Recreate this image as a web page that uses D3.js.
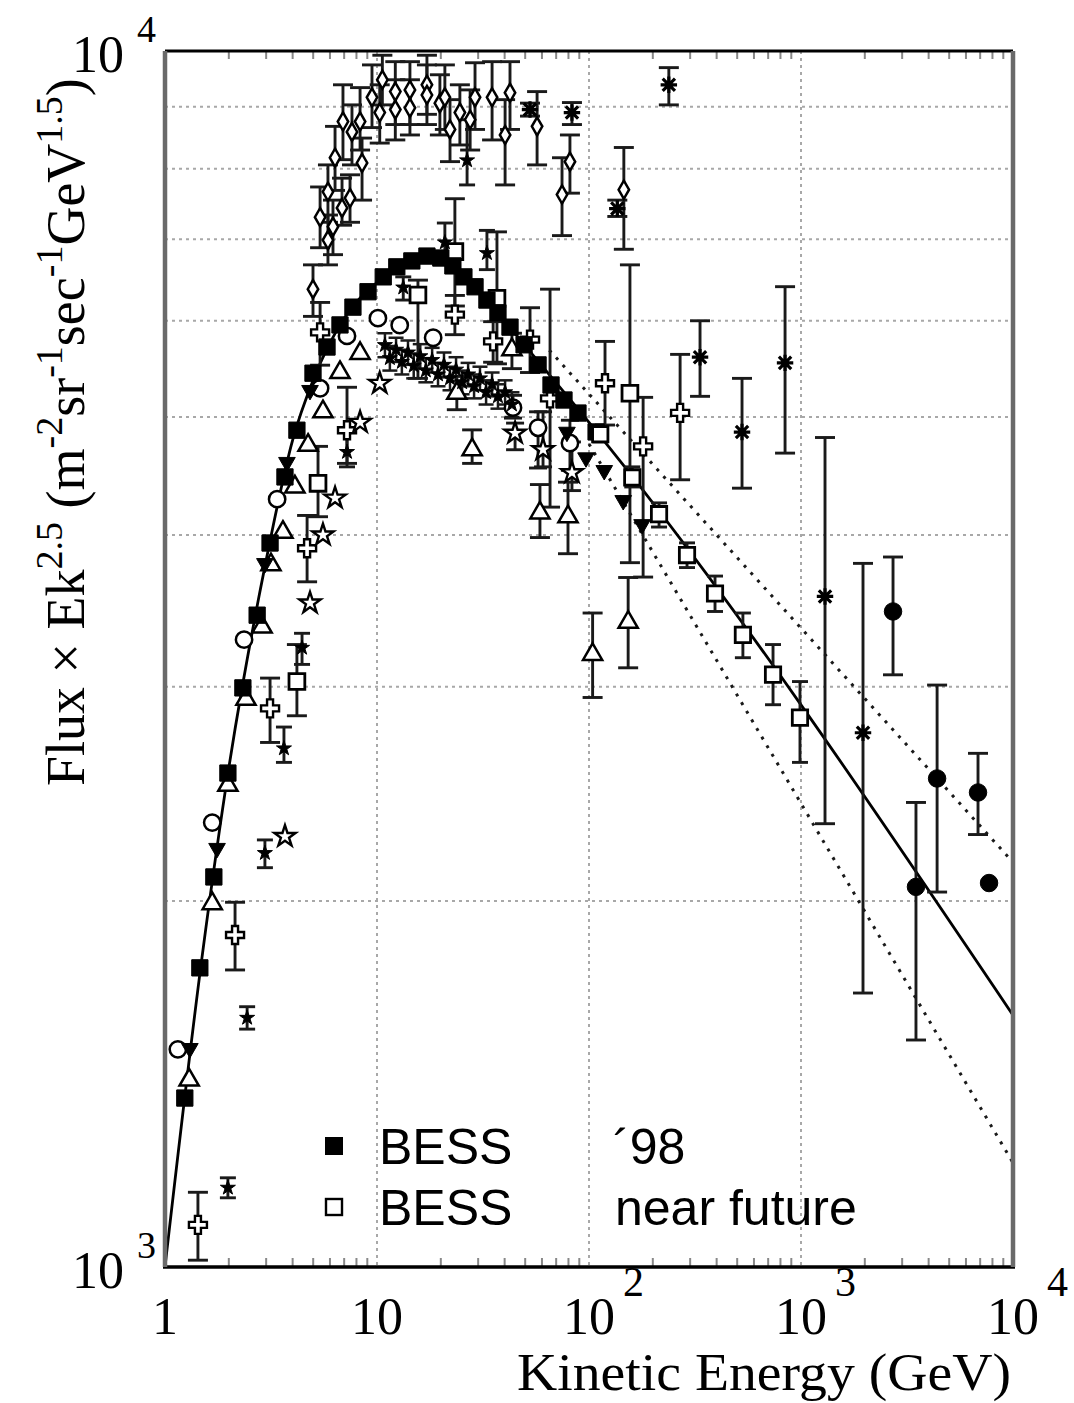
<!DOCTYPE html>
<html><head><meta charset="utf-8">
<script src="https://cdn.jsdelivr.net/npm/d3@7"></script>
<style>body{margin:0;background:#fff}svg{display:block}</style>
</head><body>
<svg id="c" width="1074" height="1403"></svg>
<script>
// ---------------- data ----------------
const bess98E=[1.24,1.46,1.70,1.98,2.33,2.72,3.13,3.68,4.19,4.99,5.81,6.69,7.70,9.07,10.7,12.4,14.6,17.2,20.0,22.8,25.7,29.0,33.0,37.2,42.4,49.4,57.5,66.2,76.2,88.7,108];
const bess98F=[1377,1762,2093,2548,2994,3436,3939,4464,4877,5433,5709,5953,6157,6339,6520,6645,6720,6782,6757,6657,6520,6399,6240,6091,5928,5733,5519,5313,5164,5038,4861];

const futureE=[113,160,214,290,393,532,738,989];
const futureF=[4840,4460,4160,3850,3580,3310,3070,2830];
const futureHi=[4900,4550,4250,3940,3700,3450,3250,3030];
const futureLo=[4770,4380,4060,3760,3460,3170,2900,2600];

const sqE=[4.19,5.27,15.6,23.3,36.8,156];
const sqF=[3030,4410,6300,6840,6260,5230];
const sqHi=[3250,4730,6480,7560,7100,6670];
const sqLo=[2840,4140,5380,6170,5530,3795];

const circE=[1.15,1.67,2.36,3.38,5.39,7.22,10.1,12.8,18.4,43.8,57.5,81.3];
const circF=[1510,2320,3280,4280,5280,5830,6030,5950,5810,5090,4900,4760];
const circHi=[null,null,null,null,null,null,null,null,null,5210,5050,4970];
const circLo=[null,null,null,null,null,null,null,null,null,4990,4540,4520];

const triE=[1.30,1.67,1.98,2.41,2.87,3.16,3.60,4.10,4.73,5.56,6.69,8.32,23.8,28.1,43.3,58.7,79.6,104,153];
const triF=[1425,1990,2490,2930,3360,3780,4020,4380,4740,5050,5440,5640,5230,4700,5680,4170,4140,3190,3390];
const triHi=[null,null,null,null,null,null,null,null,null,null,null,null,5400,4880,5860,4400,4420,3450,3690];
const triLo=[null,null,null,null,null,null,null,null,null,null,null,null,5070,4580,5480,3980,3860,2940,3110];

const dtriE=[1.31,1.76,2.96,3.76,4.83,78.7,96.8,118,145,178];
const dtriF=[1513,2210,3790,4590,5260,4860,4630,4520,4270,4080];

const plusE=[1.43,2.14,3.13,4.68,7.22,5.39,23.3,35.3,52.7,65.5,119,180,269];
const plusF=[1083,1875,2880,3900,4877,5870,6070,5770,5790,5180,5330,4730,5040];
const plusHi=[1152,1995,3050,4150,5290,6212,6295,5990,6150,6370,5770,5190,5630];
const plusLo=[1013,1755,2700,3660,4580,5516,5844,5547,5440,4216,4925,3693,4440];

const diaE=[5.39,5.87,6.20,5.87,6.34,6.91,7.62,8.32,8.50,6.84,7.46,9.47,10.3,10.6,12.2,12.2,14.3,14.3,17.2,17.2,19.8,20.9,22.1,24.6,27.5,29.0,34.9,40.2,42.4,56.9,81.3,74.6,146,4.99];
const diaF=[7300,7660,7170,6990,8170,8750,8580,8750,8090,7430,7570,9160,8900,9470,9260,8950,9290,8980,9380,9200,9060,9160,8620,8900,8780,9160,9160,8530,9240,8670,8110,7620,7690,6370];
const diaHi=[7730,8060,7540,7330,8670,9380,9030,9330,8480,7860,7910,9740,9380,9920,9800,9470,9800,9470,9920,9740,9560,9740,9120,9380,9290,9780,9800,9120,9800,9260,8530,8170,8330,6670];
const diaLo=[6890,7230,6800,6670,7680,8140,8060,8290,7540,7190,7230,8650,8400,9030,8700,8450,8700,8530,8870,8700,8530,8620,8110,8370,8290,8620,8450,7760,8620,8060,7640,7050,6870,6050];

const starE=[3.68,4.83,5.56,6.34,8.32,10.3,44.8,60.7,83.1];
const starF=[2260,3516,4000,4289,4950,5330,4850,4700,4500];
const starHi=[null,null,null,null,null,null,4943,5050,4770];
const starLo=[null,null,null,null,null,null,4700,4550,4350];

const fstarE=[1.98,2.44,2.96,3.64,4.43,7.22,20.9,33.0,26.6,13.3];
const fstarF=[1162,1603,2190,2670,3230,4680,6960,6820,8130,6390];
const fstarHi=[1184,1637,2245,2780,3320,4880,7220,7120,8780,6520];
const fstarLo=[1140,1569,2130,2600,3130,4550,6690,6610,7760,6240];

const bandE=[10.9,11.5,12.3,13.1,14.0,14.9,16.0,17.0,18.2,19.4,20.7,22.1,23.6,25.2,26.9,28.7,30.6,32.7,34.9,37.2,40.2,43.3];
const bandF=[5730,5590,5680,5550,5650,5510,5610,5460,5570,5420,5520,5380,5470,5340,5420,5300,5380,5240,5320,5200,5240,5120];
const bandHi=[5860,5720,5810,5680,5780,5640,5740,5590,5700,5540,5650,5500,5600,5460,5540,5420,5500,5360,5440,5320,5360,5240];
const bandLo=[5600,5460,5550,5420,5520,5380,5480,5340,5440,5300,5390,5260,5350,5220,5300,5180,5260,5120,5200,5080,5120,5000];

const astE=[52.7,83.1,136,238,334,527,841,1298,1961];
const astF=[8950,8900,7420,9380,5600,4860,5540,3560,2750];
const astHi=[9060,9070,7540,9690,6000,5380,6400,4810,3790];
const astLo=[8840,8700,7310,9030,5200,4370,4670,2315,1680];

const fcircE=[2717,3486,4385,6839,7709];
const fcircF=[3460,2054,2522,2456,2069];
const fcircHi=[3836,2410,3010,2645,null];
const fcircLo=[3069,1537,2034,2268,null];

const fitE=[1,1.5,2,3,4,5,7,10,15,20,30,50,100,10000];
const fitF=[1000,1806,2573,3812,4787,5363,6030,6450,6720,6760,6358,5720,4950,1611];
const upperE=[65,10000]; const upperF=[5675,2152];
const lowerE=[100,10000]; const lowerF=[4752,1218];

const xTickVals=[1,10,100,1000,10000];
const xTickBase=["1","10","10","10","10"];
const xTickExp=["","","2","3","4"];
const yTickVals=[1000,10000];
const yTickBase=["10","10"];
const yTickExp=["3","4"];
const gridXVals=[10,100,1000];
const gridYVals=[2000,3000,4000,5000,6000,7000,8000,9000];

// ---------------- chart ----------------
const svg=d3.select("#c");
const X0=165,X1=1013,Y0=1267,Y1=51;
const x=d3.scaleLog().domain([1,1e4]).range([X0,X1]);
const y=d3.scaleLog().domain([1e3,1e4]).range([Y0,Y1]);

svg.append("defs").append("clipPath").attr("id","clip")
  .append("rect").attr("x",X0).attr("y",Y1).attr("width",X1-X0).attr("height",Y0-Y1);

// grid
const grid=svg.append("g").attr("stroke","#a8a8a8").attr("stroke-width",2).attr("stroke-dasharray","3,4");
grid.selectAll(".gx").data(gridXVals).join("line")
  .attr("x1",d=>x(d)).attr("x2",d=>x(d)).attr("y1",Y1).attr("y2",Y0);
grid.selectAll(".gy").data(gridYVals).join("line")
  .attr("x1",X0).attr("x2",X1).attr("y1",d=>y(d)).attr("y2",d=>y(d));

// minor ticks (bottom + top)
const minor=x.ticks().filter(v=>xTickVals.indexOf(v)<0);
const tk=svg.append("g").attr("stroke","#888").attr("stroke-width",2);
tk.selectAll(".tb").data(minor).join("line")
  .attr("x1",d=>x(d)).attr("x2",d=>x(d)).attr("y1",Y0).attr("y2",Y0-9);
tk.selectAll(".tt").data(minor).join("line")
  .attr("x1",d=>x(d)).attr("x2",d=>x(d)).attr("y1",Y1).attr("y2",Y1+8);

// lines
const plot=svg.append("g").attr("clip-path","url(#clip)");
const lineGen=d3.line().x(d=>x(d[0])).y(d=>y(d[1]));
plot.append("path").datum(fitE.map((e,i)=>[e,fitF[i]]))
  .attr("d",lineGen.curve(d3.curveMonotoneX)).attr("fill","none").attr("stroke","#000").attr("stroke-width",2.8);
const lin=d3.line().x(d=>x(d[0])).y(d=>y(d[1]));
[[upperE,upperF],[lowerE,lowerF]].forEach(([E,F])=>{
  plot.append("path").datum(E.map((e,i)=>[e,F[i]])).attr("d",lin)
    .attr("fill","none").attr("stroke","#1a1a1a").attr("stroke-width",3).attr("stroke-dasharray","3,7");
});

// error bars
function errs(E,Hi,Lo,cap,w){
  const d=E.map((e,i)=>({e,hi:Hi[i],lo:Lo[i]})).filter(d=>d.hi!=null);
  const g=plot.append("g").attr("stroke","#1a1a1a").attr("stroke-width",w||2.9);
  g.selectAll(".v").data(d).join("line")
    .attr("x1",d=>x(d.e)).attr("x2",d=>x(d.e)).attr("y1",d=>y(d.hi)).attr("y2",d=>y(d.lo));
  g.selectAll(".ch").data(d).join("line")
    .attr("x1",d=>x(d.e)-cap/2).attr("x2",d=>x(d.e)+cap/2).attr("y1",d=>y(d.hi)).attr("y2",d=>y(d.hi));
  g.selectAll(".cl").data(d).join("line")
    .attr("x1",d=>x(d.e)-cap/2).attr("x2",d=>x(d.e)+cap/2).attr("y1",d=>y(d.lo)).attr("y2",d=>y(d.lo));
}
errs(diaE,diaHi,diaLo,20);
errs(sqE,sqHi,sqLo,20);
errs(circE,circHi,circLo,18);
errs(triE,triHi,triLo,20);
errs(plusE,plusHi,plusLo,20);
errs(starE,starHi,starLo,18);
errs(fstarE,fstarHi,fstarLo,16);
errs(bandE,bandHi,bandLo,15,2.5);
errs(astE,astHi,astLo,20);
errs(fcircE,fcircHi,fcircLo,20);
errs(futureE,futureHi,futureLo,16);

// markers
const asterisk={draw(ctx,size){const r=Math.sqrt(size)/2,d=r*0.75;
  ctx.moveTo(-r,0);ctx.lineTo(r,0);ctx.moveTo(0,-r);ctx.lineTo(0,r);
  ctx.moveTo(-d,-d);ctx.lineTo(d,d);ctx.moveTo(-d,d);ctx.lineTo(d,-d);}};
function pts(E,F,type,size,fill,opts){
  opts=opts||{};
  plot.append("g").selectAll("path").data(E.map((e,i)=>[e,F[i]])).join("path")
    .attr("d",d3.symbol().type(type).size(size))
    .attr("transform",d=>`translate(${x(d[0])},${y(d[1])})${opts.rot?" rotate(180)":""}`)
    .attr("fill",fill).attr("stroke","#000").attr("stroke-width",opts.sw||2.5);
}
pts(diaE,diaF,d3.symbolDiamond,95,"#fff",{sw:2.5});
pts(circE,circF,d3.symbolCircle,210,"#fff");
pts(triE,triF,d3.symbolTriangle,160,"#fff");
pts(sqE,sqF,d3.symbolSquare,250,"#fff",{sw:2.8});
pts(plusE,plusF,d3.symbolCross,180,"#fff",{sw:2.4});
pts(starE,starF,d3.symbolStar,140,"#fff",{sw:2.4});
pts(fstarE,fstarF,d3.symbolStar,70,"#000",{sw:1});
pts(bandE,bandF,d3.symbolStar,70,"#000",{sw:1});
pts(dtriE,dtriF,d3.symbolTriangle,120,"#000",{rot:true,sw:1});
pts(bess98E,bess98F,d3.symbolSquare,265,"#000",{sw:1});
pts(futureE,futureF,d3.symbolSquare,235,"#fff",{sw:2.8});
pts(astE,astF,asterisk,270,"none",{sw:3.2});
pts(fcircE,fcircF,d3.symbolCircle,240,"#000",{sw:1});

// frame
const fr=svg.append("g");
fr.append("line").attr("x1",X0).attr("x2",X1).attr("y1",Y1).attr("y2",Y1).attr("stroke","#000").attr("stroke-width",3);
fr.append("line").attr("x1",X0-2).attr("x2",X1+2).attr("y1",Y0).attr("y2",Y0).attr("stroke","#000").attr("stroke-width",3.5);
fr.append("line").attr("x1",X0).attr("x2",X0).attr("y1",Y1).attr("y2",Y0).attr("stroke","#6a6a6a").attr("stroke-width",4.5);
fr.append("line").attr("x1",X1).attr("x2",X1).attr("y1",Y1).attr("y2",Y0).attr("stroke","#6a6a6a").attr("stroke-width",4.5);

// tick labels
const serif="'Liberation Serif','Times New Roman',serif";
const xl=svg.append("g").attr("font-family",serif).attr("fill","#000");
xTickVals.forEach((v,i)=>{
  xl.append("text").attr("x",x(v)).attr("y",1334).attr("text-anchor","middle").attr("font-size",52).text(xTickBase[i]);
  if(xTickExp[i]) xl.append("text").attr("x",x(v)+34).attr("y",1296).attr("font-size",42).text(xTickExp[i]);
});
yTickVals.forEach((v,i)=>{
  xl.append("text").attr("x",124).attr("y",y(v)+21).attr("text-anchor","end").attr("font-size",52).text(yTickBase[i]);
  xl.append("text").attr("x",137).attr("y",y(v)-9).attr("font-size",38).text(yTickExp[i]);
});

// axis titles
svg.append("text").attr("x",1011).attr("y",1390).attr("text-anchor","end")
  .attr("font-family",serif).attr("font-size",52).attr("textLength",494).attr("lengthAdjust","spacingAndGlyphs")
  .text("Kinetic Energy (GeV)");
const yt=svg.append("text").attr("transform","translate(84,786) rotate(-90)")
  .attr("font-family",serif).attr("font-size",54);
yt.append("tspan").text("Flux \u00d7 Ek");
yt.append("tspan").attr("dy",-22).attr("font-size",38).text("2.5");
yt.append("tspan").attr("dy",22).text(" (m");
yt.append("tspan").attr("dy",-22).attr("font-size",38).text("-2");
yt.append("tspan").attr("dy",22).text("sr");
yt.append("tspan").attr("dy",-22).attr("font-size",38).text("-1");
yt.append("tspan").attr("dy",22).text("sec");
yt.append("tspan").attr("dy",-22).attr("font-size",38).text("-1");
yt.append("tspan").attr("dy",22).text("GeV");
yt.append("tspan").attr("dy",-22).attr("font-size",38).text("1.5");
yt.append("tspan").attr("dy",22).text(")");

// legend
const sans="'Liberation Sans',Arial,sans-serif";
const lg=svg.append("g").attr("font-family",sans).attr("font-size",50).attr("fill","#000");
lg.append("rect").attr("x",325).attr("y",1137).attr("width",18).attr("height",18).attr("fill","#000");
lg.append("rect").attr("x",326).attr("y",1199).attr("width",16).attr("height",16).attr("fill","#fff").attr("stroke","#000").attr("stroke-width",2.4);
lg.append("text").attr("x",379).attr("y",1164).text("BESS");
lg.append("text").attr("x",379).attr("y",1225).text("BESS");
lg.append("text").attr("x",613).attr("y",1164).text("\u00b498");
lg.append("text").attr("x",615).attr("y",1225).text("near future");
</script>
</body></html>
